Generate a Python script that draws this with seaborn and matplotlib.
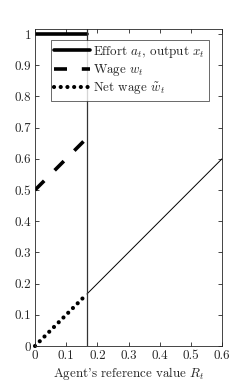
import numpy as np
import seaborn as sns
import pandas as pd
import matplotlib.pyplot as plt

# data
R_left = [0.0, 1/6]
effort = [1.0, 1.0]
wage = [0.5, 0.5 + 1/6]
net_wage = [0.0, 1/6]
R_right = [1/6, 0.6]
net_right = [1/6, 0.6]
R_cut = 1/6

xticks = [0, 0.1, 0.2, 0.3, 0.4, 0.5, 0.6]
yticks = [0, 0.1, 0.2, 0.3, 0.4, 0.5, 0.6, 0.7, 0.8, 0.9, 1]

sns.set_style("white")
plt.rcParams['font.family'] = ['cmr10']
plt.rcParams['mathtext.fontset'] = 'cm'
plt.rcParams['axes.formatter.use_mathtext'] = True
fs = 9.4

fig = plt.figure(figsize=(2.48, 3.9), dpi=100)
ax = fig.add_axes([35/248, 44/390, 187/248, 317/390])

sns.lineplot(x=R_left, y=effort, ax=ax, color='black', lw=2.6,
             label=r'Effort $a_t$, output $x_t$')
sns.lineplot(x=R_left, y=wage, ax=ax, color='black', lw=2.6,
             label=r'Wage $w_t$')
ax.lines[-1].set_dashes([3.6, 4.1])
sns.lineplot(x=R_left, y=net_wage, ax=ax, color='black', lw=3.0,
             label=r'Net wage $\tilde{w}_t$')
ax.lines[-1].set_dashes([0.01, 1.6])
ax.lines[-1].set_dash_capstyle('round')
ax.lines[-1].set_clip_on(False)
sns.lineplot(x=R_right, y=net_right, ax=ax, color='black', lw=0.7)
ax.axvline(R_cut, color='#333333', lw=0.9)

ax.set_xlim(0, 0.6)
ax.set_ylim(0, 1.016)
ax.set_xticks(xticks)
ax.set_yticks(yticks)
ax.set_xticklabels([f'{t:g}' for t in xticks])
ax.set_yticklabels([f'{t:g}' for t in yticks])
ax.tick_params(direction='in', length=3, width=0.6, color='#262626',
               labelsize=fs, top=True, right=True, bottom=True, left=True, pad=3)
for s in ax.spines.values():
    s.set_color('#262626')
    s.set_linewidth(0.6)
ax.set_xlabel(r"Agent's reference value $R_t$", fontsize=fs, labelpad=2)

leg = ax.legend(loc='upper right', bbox_to_anchor=(0.93, 0.965), fontsize=fs,
                frameon=True, fancybox=False, edgecolor='#262626',
                handlelength=2.7, handletextpad=0.25, borderpad=0.3,
                labelspacing=0.18, borderaxespad=0)
leg.get_frame().set_linewidth(0.6)

fig.savefig('out.png', dpi=100)
